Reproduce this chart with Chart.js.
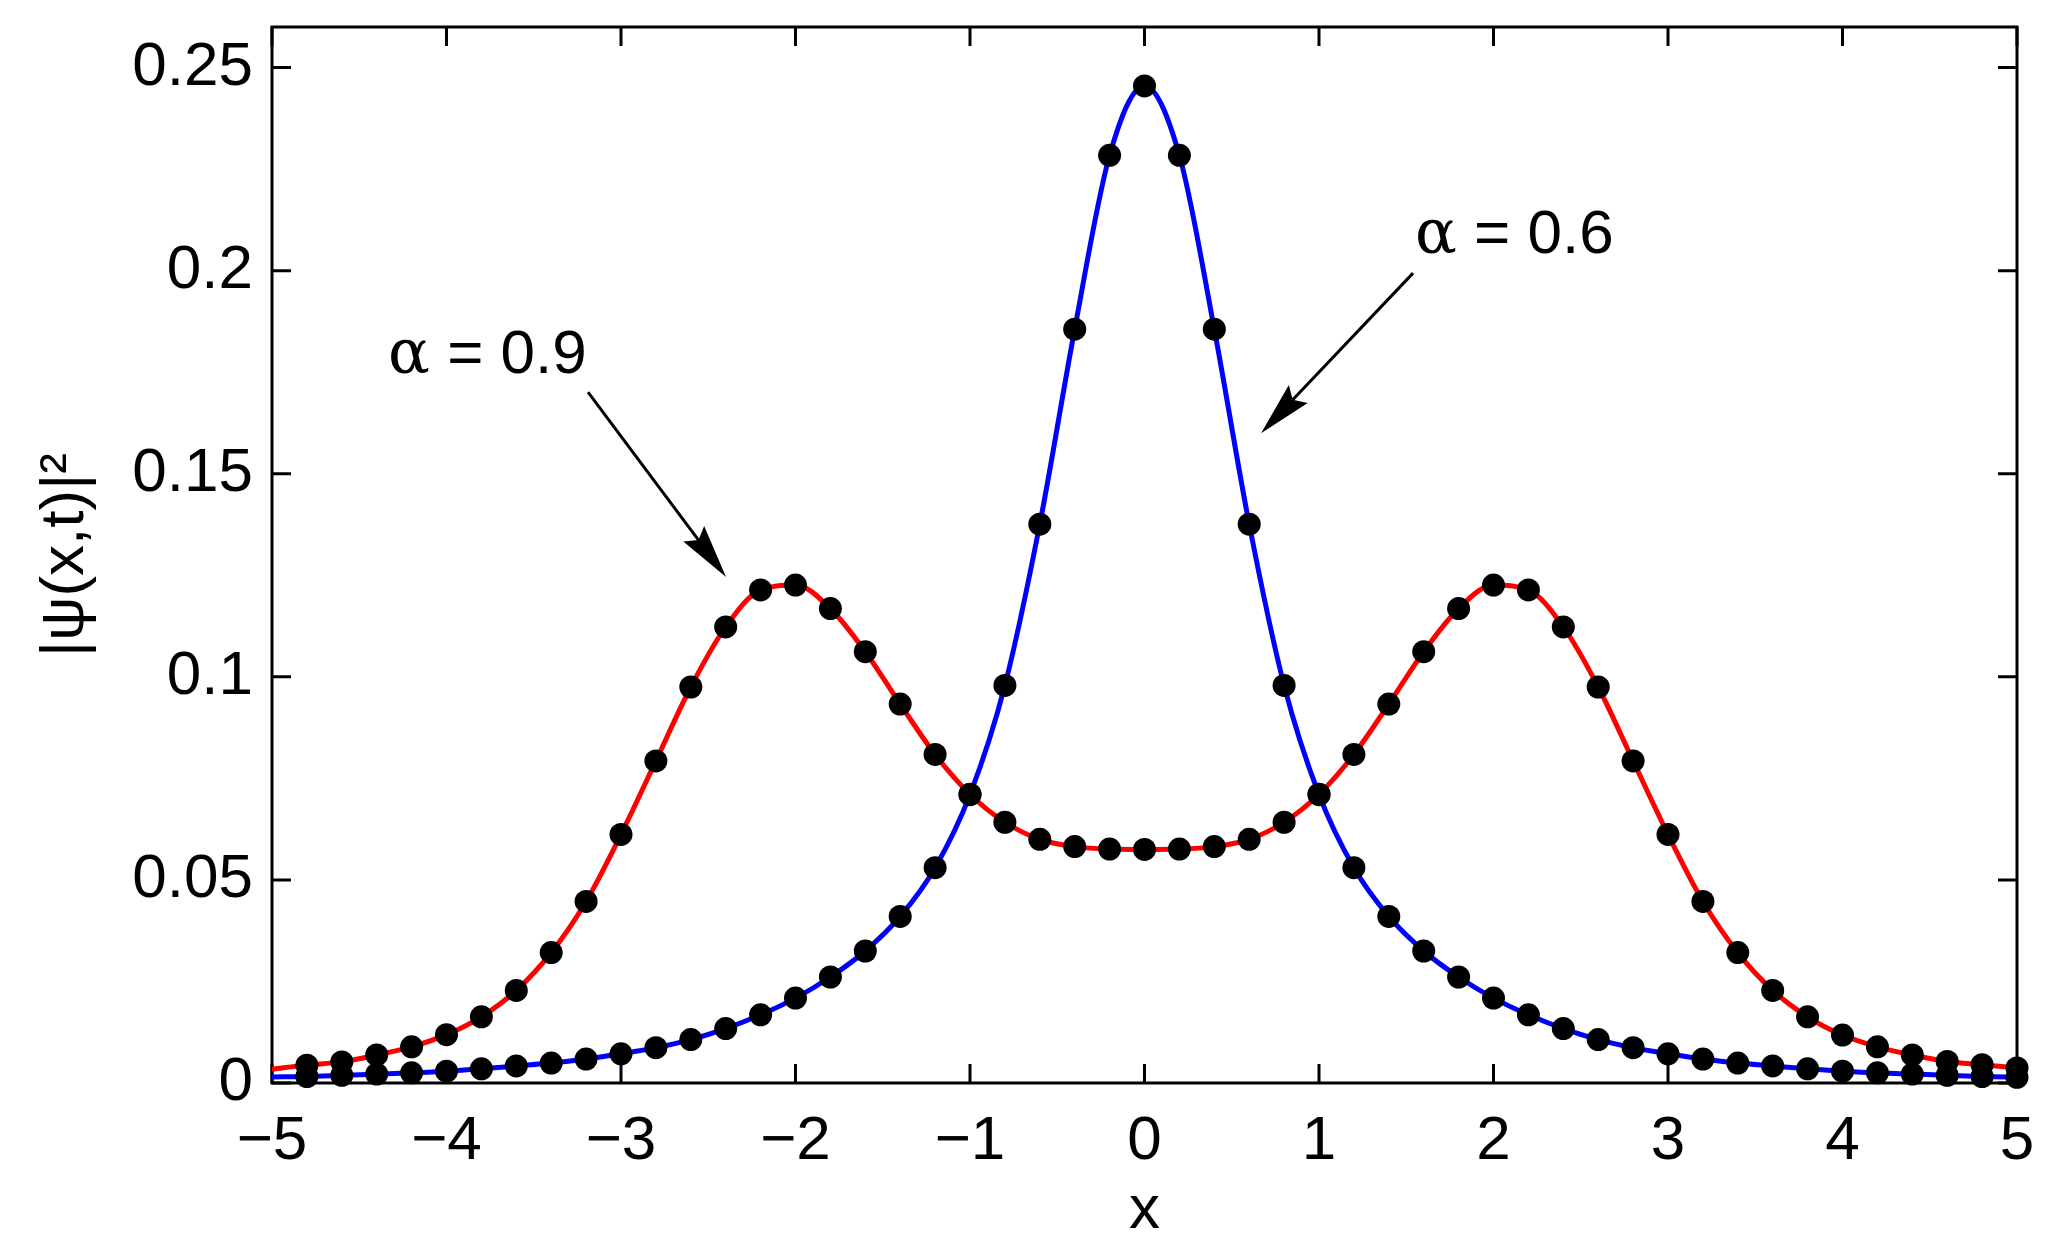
<!DOCTYPE html>
<html><head><meta charset="utf-8">
<script src="https://cdn.jsdelivr.net/npm/chart.js@4.4.0/dist/chart.umd.min.js"></script>
<style>html,body{margin:0;padding:0;background:#fff;}canvas{display:block;}</style>
</head><body>
<canvas id="c" width="2052" height="1254"></canvas>
<script>
// ---- data ----
const xPoints = [-4.8,-4.6,-4.4,-4.2,-4.0,-3.8,-3.6,-3.4,-3.2,-3.0,-2.8,-2.6,-2.4,-2.2,-2.0,-1.8,-1.6,-1.4,-1.2,-1.0,-0.8,-0.6,-0.4,-0.2,0,
  0.2,0.4,0.6,0.8,1.0,1.2,1.4,1.6,1.8,2.0,2.2,2.4,2.6,2.8,3.0,3.2,3.4,3.6,3.8,4.0,4.2,4.4,4.6,4.8,5.0];
const redValues = [0.0044,0.0052,0.0069,0.0089,0.0119,0.0163,0.0228,0.0321,0.0447,0.0612,0.0793,0.0975,0.1123,0.1214,0.1226,0.1168,0.1062,0.0933,0.0809,0.0711,0.0642,0.0600,0.0582,0.0576,0.0575,
  0.0576,0.0582,0.0600,0.0642,0.0711,0.0809,0.0933,0.1062,0.1168,0.1226,0.1214,0.1123,0.0975,0.0793,0.0612,0.0447,0.0321,0.0228,0.0163,0.0118,0.0089,0.0069,0.0053,0.0045,0.0037];
const blueValues = [0.0016,0.0019,0.0022,0.0025,0.0029,0.0035,0.0042,0.0049,0.0059,0.0072,0.0087,0.0107,0.0134,0.0168,0.0209,0.0261,0.0325,0.0410,0.0530,0.0710,0.0979,0.1376,0.1856,0.2284,0.2455,
  0.2284,0.1856,0.1376,0.0979,0.0710,0.0530,0.0410,0.0325,0.0261,0.0209,0.0168,0.0134,0.0107,0.0087,0.0072,0.0059,0.0049,0.0042,0.0035,0.0029,0.0025,0.0022,0.0019,0.0016,0.0014];
const lineStartX = -5;
const redStartValue = 0.0034;
const blueStartValue = 0.0015;
const xTickValues = [-5,-4,-3,-2,-1,0,1,2,3,4,5];
const xTickLabels = ['\u22125','\u22124','\u22123','\u22122','\u22121','0','1','2','3','4','5'];
const yTickValues = [0,0.05,0.1,0.15,0.2,0.25];
const yTickLabels = ['0','0.05','0.1','0.15','0.2','0.25'];
const xAxisTitle = 'x';
const yAxisTitle = '|\u03C8(x,t)|\u00B2';
// annotation texts and anchor points (data coordinates)
const annotationLabels = ['= 0.9', '= 0.6'];
const annotationText = [[-4.335, 0.1748], [1.550, 0.2044]];
const arrowFrom = [[-3.189, 0.1701], [1.539, 0.1994]];
const arrowTo = [[-2.398, 0.1246], [0.668, 0.1600]];

// ---- build ----
const pts = (vals) => xPoints.map((x, i) => ({x, y: vals[i]}));
const linePts = (start, vals) => [{x: lineStartX, y: start}].concat(pts(vals));
const SANS = "'Liberation Sans', Arial, Helvetica, sans-serif";
const FS = 62;

function drawArrow(ctx, x1, y1, x2, y2) {
  const dx = x2 - x1, dy = y2 - y1, L = Math.hypot(dx, dy);
  const ux = dx / L, uy = dy / L, nx = -uy, ny = ux;
  const hl = 54, hw = 13, notch = 8;
  ctx.lineWidth = 3;
  ctx.beginPath();
  ctx.moveTo(x1, y1);
  ctx.lineTo(x2 - ux * (hl - notch), y2 - uy * (hl - notch));
  ctx.stroke();
  ctx.beginPath();
  ctx.moveTo(x2, y2);
  ctx.lineTo(x2 - ux * hl + nx * hw, y2 - uy * hl + ny * hw);
  ctx.lineTo(x2 - ux * (hl - notch), y2 - uy * (hl - notch));
  ctx.lineTo(x2 - ux * hl - nx * hw, y2 - uy * hl - ny * hw);
  ctx.closePath();
  ctx.fill();
}

const framePlugin = {
  id: 'frame',
  beforeDatasetsDraw(chart) {
    const {ctx, chartArea: a, scales: {x, y}} = chart;
    ctx.save();
    ctx.strokeStyle = '#000';
    ctx.lineWidth = 3;
    ctx.strokeRect(a.left, a.top, a.right - a.left, a.bottom - a.top);
    const tl = 19;
    ctx.beginPath();
    x.ticks.forEach(t => {
      const px = x.getPixelForValue(t.value);
      ctx.moveTo(px, a.bottom); ctx.lineTo(px, a.bottom - tl);
      ctx.moveTo(px, a.top); ctx.lineTo(px, a.top + tl);
    });
    y.ticks.forEach(t => {
      const py = y.getPixelForValue(t.value);
      ctx.moveTo(a.left, py); ctx.lineTo(a.left + tl, py);
      ctx.moveTo(a.right, py); ctx.lineTo(a.right - tl, py);
    });
    ctx.stroke();
    ctx.restore();
  },
  afterDatasetsDraw(chart) {
    const {ctx, scales: {x, y}} = chart;
    ctx.save();
    ctx.fillStyle = '#000';
    ctx.strokeStyle = '#000';
    ctx.textBaseline = 'alphabetic';
    ctx.textAlign = 'left';
    annotationLabels.forEach((lab, i) => {
      const tx = x.getPixelForValue(annotationText[i][0]);
      const ty = y.getPixelForValue(annotationText[i][1]);
      ctx.font = FS + "px 'DejaVu Serif', 'Liberation Serif', serif";
      ctx.fillText('\u03B1', tx, ty);
      const wa = ctx.measureText('\u03B1').width;
      ctx.font = FS + 'px ' + SANS;
      ctx.fillText(' ' + lab, tx + wa, ty);
      drawArrow(ctx,
        x.getPixelForValue(arrowFrom[i][0]), y.getPixelForValue(arrowFrom[i][1]),
        x.getPixelForValue(arrowTo[i][0]), y.getPixelForValue(arrowTo[i][1]));
    });
    ctx.restore();
  }
};

new Chart(document.getElementById('c'), {
  type: 'scatter',
  data: {
    datasets: [
      {data: linePts(redStartValue, redValues), showLine: true, borderColor: '#ff0000', borderWidth: 5,
       pointRadius: 0, cubicInterpolationMode: 'monotone', clip: false, order: 4},
      {data: linePts(blueStartValue, blueValues), showLine: true, borderColor: '#0000ff', borderWidth: 5,
       pointRadius: 0, cubicInterpolationMode: 'monotone', clip: false, order: 3},
      {data: pts(redValues), showLine: false, pointRadius: 11.5, pointBackgroundColor: '#000',
       pointBorderWidth: 0, borderColor: '#000', clip: false, order: 2},
      {data: pts(blueValues), showLine: false, pointRadius: 11.5, pointBackgroundColor: '#000',
       pointBorderWidth: 0, borderColor: '#000', clip: false, order: 1}
    ]
  },
  options: {
    responsive: false,
    devicePixelRatio: 1,
    animation: false,
    events: [],
    layout: {padding: {top: 27, right: 35, left: 0, bottom: 0}},
    plugins: {legend: {display: false}, tooltip: {enabled: false}},
    scales: {
      x: {
        type: 'linear', min: -5, max: 5,
        grid: {display: false, drawTicks: false},
        border: {display: false},
        afterBuildTicks: s => { s.ticks = xTickValues.map(v => ({value: v})); },
        afterFit: s => { s.height = 171; s.paddingLeft = 0; s.paddingRight = 0; },
        ticks: {
          color: '#000', font: {family: SANS, size: FS}, padding: 22, maxRotation: 0, autoSkip: false,
          callback: (v, i) => xTickLabels[i]
        },
        title: {display: true, text: xAxisTitle, color: '#000', font: {family: SANS, size: FS, lineHeight: 1},
                padding: {top: 0, bottom: 12}}
      },
      y: {
        type: 'linear', min: 0, max: 0.26,
        grid: {display: false, drawTicks: false},
        border: {display: false},
        afterBuildTicks: s => { s.ticks = yTickValues.map(v => ({value: v})); },
        afterFit: s => { s.width = 272; s.paddingTop = 0; s.paddingBottom = 0; },
        ticks: {
          color: '#000', font: {family: SANS, size: FS}, padding: 19, autoSkip: false,
          callback: (v, i) => yTickLabels[i]
        },
        title: {display: true, text: yAxisTitle, color: '#000', font: {family: SANS, size: FS, lineHeight: 1},
                padding: {top: 35, bottom: 0}}
      }
    }
  },
  plugins: [framePlugin]
});
</script>
</body></html>
